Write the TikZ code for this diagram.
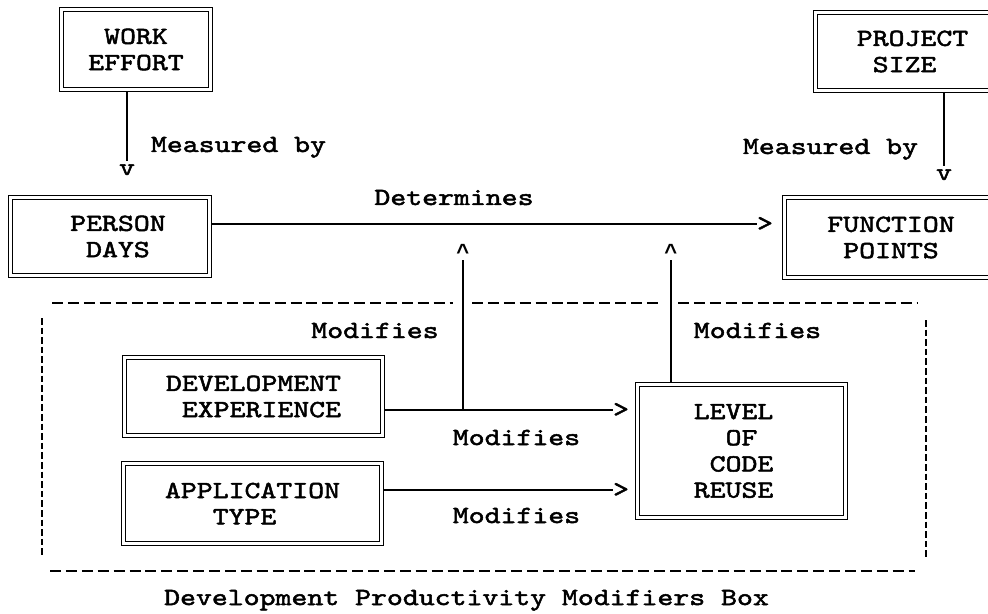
\documentclass[tikz,border=0pt]{standalone}
\usepackage{fontspec}
\newfontfamily\typewriter{lmmono10-regular}[Extension=.otf, FakeStretch=1.232, FakeBold=2]
\newfontfamily\plainmono{Liberation Mono}
\usetikzlibrary{backgrounds}
\newcommand\chpad{\hphantom{X}}
\begin{document}
\begin{tikzpicture}[x=0.5pt,y=-0.5pt,
  every node/.style={font=\fontsize{12.3}{13.1}\typewriter},
  entity/.style={draw, double, line width=0.55pt, double distance=1.5pt,
    inner sep=0pt, outer sep=0pt, align=left},
  tip/.style={inner sep=0pt, outer sep=0pt},
  uptip/.style={tip, anchor=base, font=\fontsize{11}{11}\plainmono\bfseries},
  link/.style={line width=0.65pt},
  frame/.style={line width=1pt, dash pattern=on 5.5pt off 2.45pt},
  side/.style={line width=0.9pt, dash pattern=on 3.3pt off 1.5pt},
  lbl/.style={anchor=base, inner sep=0pt}]
\clip (0,0) rectangle (988,614);

% entity boxes
\node[entity, minimum width=74.4pt, minimum height=39.9pt] (we) at (136,49.5) {\chpad WORK\\EFFORT};
\node[entity, minimum width=99.4pt, minimum height=38.9pt] (pd) at (110,236.5) {\chpad PERSON\\\chpad\chpad DAYS};
\node[entity, minimum width=96.9pt, minimum height=38.9pt] (ps) at (912.5,51.5) {PROJECT\\\chpad SIZE};
\node[entity, minimum width=106.4pt, minimum height=39.9pt] (fp) at (891,237.5) {FUNCTION\\\chpad POINTS};
\node[entity, minimum width=128.9pt, minimum height=38.9pt] (de) at (253.5,396.5) {DEVELOPMENT\\\chpad EXPERIENCE};
\node[entity, minimum width=128.9pt, minimum height=39.9pt] (at) at (252.5,503.5) {APPLICATION\\\chpad\chpad\chpad TYPE};
\node[entity, minimum width=103.9pt, minimum height=66.4pt] (lv) at (741.5,451) {LEVEL\chpad\\\chpad\chpad OF\\\chpad CODE\\REUSE};

% typed arrow tips
\node[tip, anchor=base, inner ysep=1.8pt] (v1) at (127,175) {v};
\node[tip, anchor=base, inner ysep=1.8pt] (v2) at (944,180) {v};
\node[tip] (g1) at (765,224) {>};
\node[tip] (g2) at (621,410) {>};
\node[tip] (g3) at (621,490) {>};
\node[uptip] (c1) at (463,260) {\textasciicircum};
\node[uptip] (c2) at (671,260) {\textasciicircum};

% connectors
\begin{scope}[on background layer]
\draw[link] (v1 |- we.south) -- (v1.north);
\draw[link] (v2 |- ps.south) -- (v2.north);
\draw[link] (pd.east |- g1) -- (g1.west);
\draw[link] (de.east |- g2) -- (g2.west);
\draw[link] (at.east |- g3) -- (g3.west);
\draw[link] (c1 |- g2) -- (c1.south);
\draw[link] (c2 |- lv.north) -- (c2.south);
\end{scope}

% relation labels
\node[lbl] (mb1) at (238.5,152) {Measured by};
\node[lbl] (mb2) at (830.5,154) {Measured by};
\node[lbl] (det) at (454,205) {Determines};
\node[lbl] (m1) at (375,338) {Modifies};
\node[lbl] (m2) at (757.5,338) {Modifies};
\node[lbl] (m3) at (516.5,445) {Modifies};
\node[lbl] (m4) at (516.5,523) {Modifies};

% modifiers frame
\draw[frame] (52,303) -- (453,303);
\draw[frame] (472,303) -- (662,303);
\draw[frame] (678,303) -- (917,303);
\draw[frame] (50,571) -- (915,571);
\draw[side] (42,318) -- (42,555);
\draw[side] (926,320) -- (926,557);
\node[lbl] (cap) at (466.5,605) {Development Productivity Modifiers Box};
\end{tikzpicture}
\end{document}
